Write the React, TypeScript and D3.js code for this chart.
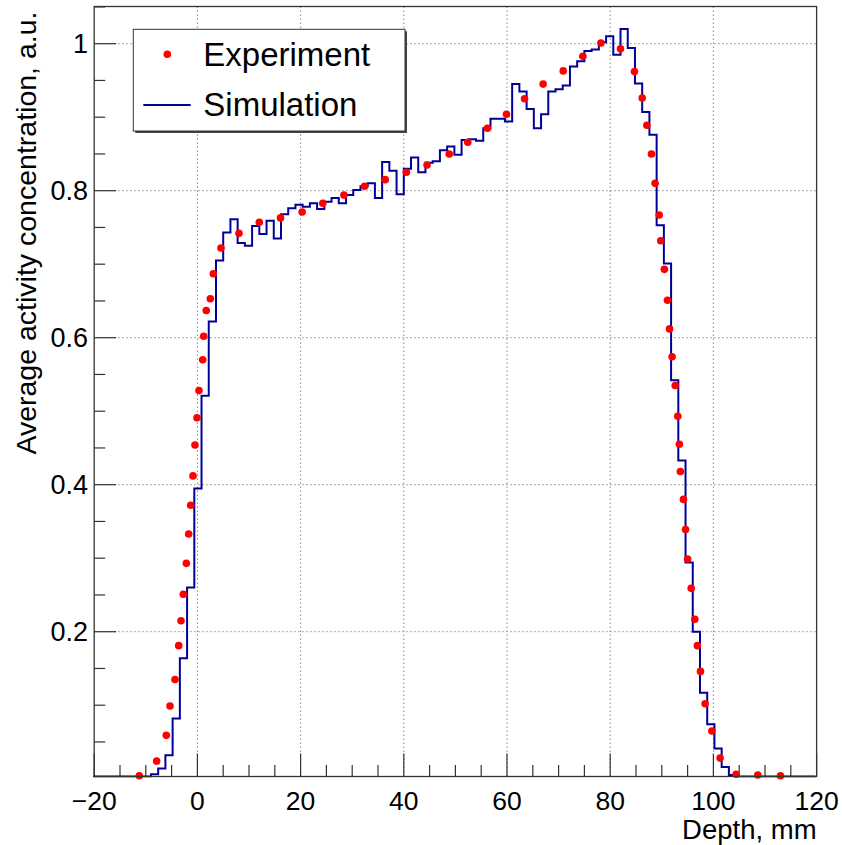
import React from "react";
import * as d3 from "d3";

// ---------- data ----------
const xTickValues = [-20, 0, 20, 40, 60, 80, 100, 120];
const yTickValues = [0.2, 0.4, 0.6, 0.8, 1.0];

const simBinStart = -20.2;
const simBinWidth = 1.4;
const simValues = [
  0, 0, 0, 0, 0, 0, 0, 0,
  0.006, 0.014, 0.032, 0.082, 0.164, 0.26, 0.395,
  0.521, 0.622, 0.705, 0.743, 0.761, 0.729, 0.725, 0.752, 0.741, 0.759,
  0.735, 0.768, 0.776, 0.781, 0.778, 0.783, 0.775, 0.785, 0.79, 0.783,
  0.794, 0.801, 0.806, 0.81, 0.79, 0.839, 0.827, 0.795, 0.83, 0.845,
  0.825, 0.838, 0.84, 0.855, 0.86, 0.849, 0.869, 0.87, 0.868, 0.885,
  0.898, 0.898, 0.894, 0.945, 0.935, 0.911, 0.885, 0.904, 0.935, 0.938,
  0.943, 0.969, 0.976, 0.99, 0.992, 1.002, 1.01, 0.985, 1.02, 0.994,
  0.946, 0.907, 0.876, 0.753, 0.701, 0.542, 0.433, 0.294, 0.2, 0.117,
  0.074, 0.041, 0.016, 0.005,
  0, 0, 0, 0, 0, 0, 0, 0, 0, 0, 0,
];

const expX = [
  -11.26, -7.89, -6.03, -5.31, -4.34, -3.62, -3.18, -2.73, -2.15, -1.69,
  -1.3, -0.85, -0.47, -0.08, 0.31, 1.03, 1.22, 1.72, 2.5, 3.08,
  4.57, 8.06, 12.0, 16.1, 20.3, 24.3, 28.4, 32.4, 36.4, 40.5,
  44.5, 48.8, 52.4, 56.2, 59.9, 63.4, 67.0, 70.9, 74.7, 78.2,
  82.0, 84.7, 86.2, 87.1, 88.0, 88.7, 89.5, 89.8, 90.5, 91.1,
  91.5, 92.0, 92.6, 93.1, 93.4, 93.6, 94.2, 94.6, 95.0, 95.7,
  96.4, 96.9, 97.5, 98.4, 99.7, 101.3, 104.4, 108.6, 113.0,
];
const expY = [
  0.004, 0.024, 0.059, 0.099, 0.135, 0.181, 0.215, 0.251, 0.293, 0.333,
  0.372, 0.412, 0.454, 0.491, 0.528, 0.57, 0.602, 0.637, 0.653, 0.687,
  0.722, 0.742, 0.757, 0.763, 0.771, 0.783, 0.794, 0.806, 0.815, 0.825,
  0.835, 0.85, 0.866, 0.885, 0.904, 0.925, 0.945, 0.963, 0.983, 1.001,
  0.993, 0.962, 0.926, 0.889, 0.85, 0.81, 0.767, 0.732, 0.693, 0.651,
  0.612, 0.574, 0.535, 0.493, 0.455, 0.418, 0.38, 0.339, 0.299, 0.259,
  0.217, 0.181, 0.146, 0.102, 0.065, 0.028, 0.006, 0.005, 0.004,
];

const legendLabels = ["Experiment", "Simulation"];
const xTitle = "Depth, mm";
const yTitle = "Average activity concentration, a.u.";

// ---------- layout ----------
const W = 842;
const H = 845;
const left = 94.2;
const right = 816.6;
const top = 6.5;
const bottom = 776.5;
const FONT = "'Liberation Sans', Arial, Helvetica, sans-serif";
const RED = "#ff0000";
const BLUE = "#000099";

export default function App() {
  const x = d3.scaleLinear().domain([-20, 120]).range([left, right]);
  const y = d3.scaleLinear().domain([0.003, 1.0506]).range([bottom, top]).clamp(true);

  const simPts: [number, number][] = simValues.map((v, i) => [simBinStart + i * simBinWidth, v]);
  simPts.push([simBinStart + simValues.length * simBinWidth, simValues[simValues.length - 1]]);
  const stepLine = d3
    .line<[number, number]>()
    .x((d) => x(d[0]))
    .y((d) => y(d[1]))
    .curve(d3.curveStepAfter);

  const xMinor = d3.range(-20, 120.001, 5).filter((v) => !xTickValues.includes(v));
  const yMinor = d3.range(0.05, 1.0501, 0.05).filter(
    (v) => !yTickValues.some((t) => Math.abs(t - v) < 1e-6)
  );

  const fmtY = (v: number) => (Math.abs(v - 1) < 1e-9 ? "1" : v.toFixed(1));
  const fmtX = d3.format("d");

  const legX = 133.3;
  const legY = 29.3;
  const legW = 271.7;
  const legH = 101.7;

  return (
    <svg
      width={W}
      height={H}
      style={{ position: "absolute", left: 0, top: 0, background: "#fff" }}
      fontFamily={FONT}
    >
      <rect x={0} y={0} width={W} height={H} fill="#fff" />
      <defs>
        <clipPath id="plotClip">
          <rect x={left - 2} y={top - 2} width={right - left + 4} height={bottom - top + 3} />
        </clipPath>
      </defs>

      {/* grid */}
      <g stroke="#8a8a8a" strokeWidth={1} strokeDasharray="1.5 2.5">
        {xTickValues
          .filter((v) => v > -20 && v < 120)
          .map((v) => (
            <line key={"gx" + v} x1={x(v)} x2={x(v)} y1={top} y2={bottom} />
          ))}
        {yTickValues.map((v) => (
          <line key={"gy" + v} x1={left} x2={right} y1={y(v)} y2={y(v)} />
        ))}
      </g>

      {/* ticks */}
      <g stroke="#333" strokeWidth={1.2}>
        {xTickValues.map((v) => (
          <line key={"tx" + v} x1={x(v)} x2={x(v)} y1={bottom} y2={bottom - 23} />
        ))}
        {xMinor.map((v) => (
          <line key={"mx" + v} x1={x(v)} x2={x(v)} y1={bottom} y2={bottom - 11.5} />
        ))}
        {yTickValues.map((v) => (
          <line key={"ty" + v} x1={left} x2={left + 22} y1={y(v)} y2={y(v)} />
        ))}
        {yMinor.map((v) => (
          <line key={"my" + v} x1={left} x2={left + 11} y1={y(v)} y2={y(v)} />
        ))}
      </g>

      {/* simulation histogram */}
      <g clipPath="url(#plotClip)">
        <path d={stepLine(simPts) || ""} fill="none" stroke={BLUE} strokeWidth={2} />
      </g>

      {/* experiment points */}
      <g fill={RED}>
        {expX.map((xv, i) => (
          <circle key={"p" + i} cx={x(xv)} cy={y(expY[i])} r={3.8} />
        ))}
      </g>

      {/* frame */}
      <rect
        x={left}
        y={top}
        width={right - left}
        height={bottom - top}
        fill="none"
        stroke="#333"
        strokeWidth={1.3}
      />

      {/* tick labels */}
      <g fontSize={26.5} fill="#000" textAnchor="middle">
        {xTickValues.map((v) => (
          <text key={"lx" + v} x={x(v)} y={810}>
            {fmtX(v)}
          </text>
        ))}
      </g>
      <g fontSize={27} fill="#000" textAnchor="end">
        {yTickValues.map((v) => (
          <text key={"ly" + v} x={88} y={y(v) + 9.7}>
            {fmtY(v)}
          </text>
        ))}
      </g>

      {/* axis titles */}
      <text x={right} y={839} fontSize={27.5} textAnchor="end" fill="#000">
        {xTitle}
      </text>
      <text
        transform={`translate(36, ${top + 5}) rotate(-90)`}
        fontSize={28.5}
        textAnchor="end"
        fill="#000"
      >
        {yTitle}
      </text>

      {/* legend */}
      <rect x={legX + 2} y={legY + 2} width={legW} height={legH} fill="#444" />
      <rect x={legX} y={legY} width={legW} height={legH} fill="#fff" stroke="#333" strokeWidth={1} />
      <circle cx={167.3} cy={54.3} r={3.8} fill={RED} />
      <line x1={143.3} x2={190.7} y1={105} y2={105} stroke={BLUE} strokeWidth={2} />
      <text x={203.3} y={66} fontSize={33} fill="#000">
        {legendLabels[0]}
      </text>
      <text x={203.3} y={116} fontSize={33} fill="#000">
        {legendLabels[1]}
      </text>
    </svg>
  );
}
